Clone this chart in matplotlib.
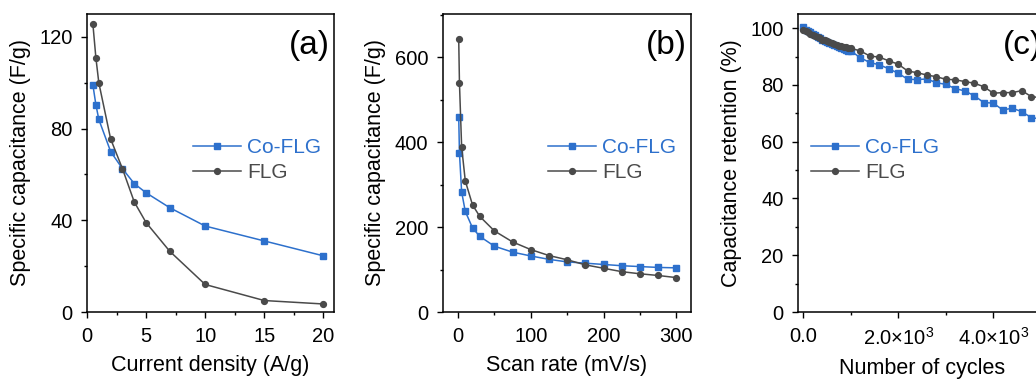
import matplotlib
matplotlib.use('Agg')
from matplotlib import pyplot as plt
from matplotlib.ticker import MultipleLocator, FixedLocator, FixedFormatter

plt.rcParams['font.family'] = ['Liberation Sans', 'DejaVu Sans']
plt.rcParams['mathtext.fontset'] = 'custom'
plt.rcParams['mathtext.rm'] = 'Liberation Sans'
plt.rcParams['mathtext.it'] = 'Liberation Sans'

# (a) capacitance vs current density
dens = [0.5, 0.75, 1, 2, 3, 4, 5, 7, 10, 15, 20]
a_co = [99, 90.5, 84, 70, 62.5, 56, 52, 45.5, 37.5, 31, 24.5]
a_flg = [125.5, 111, 100, 75.5, 62.5, 48, 39, 26.5, 12, 5, 3.5]

# (b) capacitance vs scan rate
rate = [1, 2, 5, 10, 20, 30, 50, 75, 100, 125, 150, 175, 200, 225, 250, 275, 300]
b_co = [460, 375, 283, 237, 198, 178, 155, 141, 132, 124, 118, 115, 112, 109, 107, 105, 104]
b_flg = [642, 540, 389, 309, 252, 225, 191, 165, 147, 133, 123, 111, 103, 95, 90, 86, 81]

# (c) capacitance retention vs cycles
cyc = [0, 50, 100, 150, 200, 250, 300, 350, 400, 450, 500, 550, 600, 650, 700, 750,
       800, 850, 900, 950, 1000, 1200, 1400, 1600, 1800, 2000, 2200, 2400, 2600, 2800,
       3000, 3200, 3400, 3600, 3800, 4000, 4200, 4400, 4600, 4800, 5000]
c_co = [100.5, 99.5, 99.0, 98.6, 98.0, 97.5, 97.0, 96.6, 96.0, 95.6, 95.2, 94.8, 94.5,
        94.2, 93.8, 93.5, 93.0, 92.6, 92.3, 92.1, 92.0, 89.6, 87.9, 87.1, 85.7, 84.1,
        82.0, 81.9, 82.1, 80.8, 80.2, 78.7, 77.9, 76.2, 73.8, 73.6, 71.2, 71.8, 70.6,
        68.5, 68.0]
c_flg = [99.5, 99.0, 98.5, 98.0, 97.6, 97.2, 96.8, 96.4, 96.0, 95.7, 95.4, 95.1, 94.8,
         94.5, 94.2, 93.9, 93.6, 93.4, 93.2, 93.0, 92.9, 92.0, 90.2, 89.8, 88.5, 87.3,
         84.9, 84.3, 83.5, 82.9, 82.0, 81.8, 81.2, 80.6, 79.4, 77.1, 77.3, 77.3, 78.0,
         75.9, 75.5]
c_ticklabels = ['0.0', r'$2.0{\times}10^{3}$', r'$4.0{\times}10^{3}$']

BLUE = '#2d70cc'
GRAY = '#4a4a4a'

W, H = 1036, 383
fig = plt.figure(figsize=(W / 100, H / 100), dpi=100)


def make_ax(left_px, right_px):
    return fig.add_axes([left_px / W, (H - 312) / H, (right_px - left_px) / W, 298 / H])


def style(ax, letter, ylabel, xlabel, leg_x):
    for s in ax.spines.values():
        s.set_linewidth(1.1)
    ax.tick_params(which='both', direction='out', top=False, right=False,
                   labelsize=14.5, pad=6, width=1.0)
    ax.tick_params(which='major', length=4.5)
    ax.tick_params(which='minor', length=2.5)
    ax.set_ylabel(ylabel, fontsize=15.5, labelpad=6)
    ax.set_xlabel(xlabel, fontsize=15.5, labelpad=7)
    ax.text(0.984, 0.893, letter, transform=ax.transAxes, ha='right', va='center',
            fontsize=24)
    leg = ax.legend(loc='center left', bbox_to_anchor=(leg_x, 0.51), frameon=False,
                    fontsize=15, handlelength=2.3, handletextpad=0.3, labelspacing=0.3,
                    borderpad=0, borderaxespad=0)
    for t, c in zip(leg.get_texts(), [BLUE, GRAY]):
        t.set_color(c)


def draw(ax, x, yco, yflg):
    ax.plot(x, yco, color=BLUE, marker='s', markersize=4.2, lw=1.1, label='Co-FLG')
    ax.plot(x, yflg, color=GRAY, marker='o', markersize=4.2, lw=1.1, label='FLG')


# panel a
ax1 = make_ax(87, 334)
draw(ax1, dens, a_co, a_flg)
ax1.set_xlim(0, 20.9)
ax1.set_ylim(0, 130)
ax1.xaxis.set_major_locator(MultipleLocator(5))
ax1.xaxis.set_minor_locator(MultipleLocator(2.5))
ax1.yaxis.set_major_locator(MultipleLocator(40))
ax1.yaxis.set_minor_locator(MultipleLocator(20))
style(ax1, '(a)', 'Specific capacitance (F/g)', 'Current density (A/g)', 0.429)

# panel b
ax2 = make_ax(442.7, 691)
draw(ax2, rate, b_co, b_flg)
ax2.set_xlim(-21, 320)
ax2.set_ylim(0, 702)
ax2.xaxis.set_major_locator(MultipleLocator(100))
ax2.xaxis.set_minor_locator(MultipleLocator(50))
ax2.yaxis.set_major_locator(MultipleLocator(200))
ax2.yaxis.set_minor_locator(MultipleLocator(100))
style(ax2, '(b)', 'Specific capacitance (F/g)', 'Scan rate (mV/s)', 0.423)

# panel c (cut off at the right edge, as in the original)
ax3 = make_ax(798.3, 1046)
draw(ax3, cyc, c_co, c_flg)
ax3.set_xlim(-105, 5110)
ax3.set_ylim(0, 105)
ax3.xaxis.set_major_locator(FixedLocator([0, 2000, 4000]))
ax3.xaxis.set_major_formatter(FixedFormatter(c_ticklabels))
ax3.xaxis.set_minor_locator(FixedLocator([1000, 3000]))
ax3.yaxis.set_major_locator(MultipleLocator(20))
ax3.yaxis.set_minor_locator(MultipleLocator(10))
style(ax3, '(c)', 'Capacitance retention (%)', 'Number of cycles', 0.05)

fig.savefig('out.png', dpi=100)
